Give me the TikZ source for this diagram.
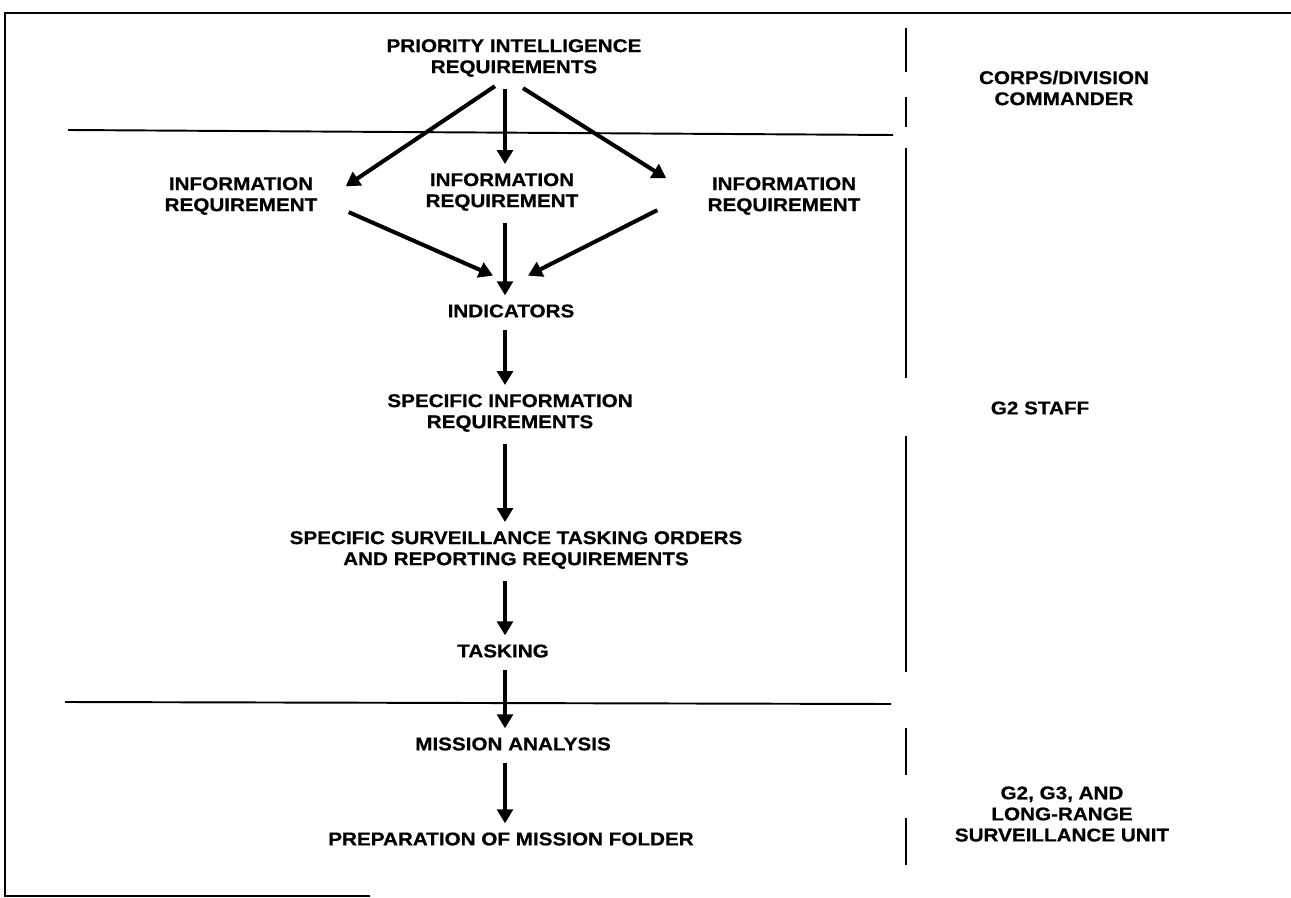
\documentclass[tikz,border=0pt]{standalone}
\usepackage{fontspec}
\setmainfont[FakeStretch=1.12, BoldFeatures={FakeBold=0.6}]{Liberation Sans}
\usepackage{tikz}
\usetikzlibrary{arrows.meta}
\usetikzlibrary{calc}

\tikzset{
  flowtext/.style={inner sep=0pt, align=center, font=\fontsize{10.5}{12}\selectfont\bfseries},
  flowarrow/.style={line width=2.3pt, -{Triangle[length=8pt,width=9pt]}},
  downarrow/.style={flowarrow, shorten <=7pt, shorten >=5pt},
  frameline/.style={line width=1.1pt},
}

\begin{document}
\begin{tikzpicture}[x=0.02cm, y=-0.02cm]
        \newcommand{\flowcolx}{505}
        \newcommand{\sidecolx}{906}
        \useasboundingbox (0,0) rectangle (1291,898);
        % frame and level lines
        \draw[frameline] (370,896) -- (5,896) -- (5,13) -- (1291,13);
        \draw[frameline] (68,130) -- (893,135);
        \draw[frameline] (65,702) -- (891,704);
        \foreach \ya/\yb in {28/72, 97/127, 148/378, 436/672, 728/775, 818/865}
            \draw[frameline] (\sidecolx,\ya) -- (\sidecolx,\yb);
        \coordinate (colx) at (\flowcolx,0);
        % steps
        \node[flowtext] (pir) at (514,58) {PRIORITY INTELLIGENCE\\REQUIREMENTS};
        \node[flowtext] (irl) at (241,196) {INFORMATION\\REQUIREMENT};
        \node[flowtext] (irc) at (502,192) {INFORMATION\\REQUIREMENT};
        \node[flowtext] (irr) at (784,196) {INFORMATION\\REQUIREMENT};
        \node[flowtext] (ind) at (511,311) {INDICATORS};
        \node[flowtext] (sir) at (510,413) {SPECIFIC INFORMATION\\REQUIREMENTS};
        \node[flowtext] (ssto) at (516,550) {SPECIFIC SURVEILLANCE TASKING ORDERS\\AND REPORTING REQUIREMENTS};
        \node[flowtext] (task) at (503,651) {TASKING};
        \node[flowtext] (mana) at (513,744) {MISSION ANALYSIS};
        \node[flowtext] (prep) at (511,839) {PREPARATION OF MISSION FOLDER};
        % who does it
        \node[flowtext] (cdc) at (1064,88) {CORPS/DIVISION\\COMMANDER};
        \node[flowtext] (g2) at (1040,408) {G2 STAFF};
        \node[flowtext] (g23) at (1062,814) {G2, G3, AND\\LONG-RANGE\\SURVEILLANCE UNIT};
        % arrows
        \draw[flowarrow] ($(pir.south)+(-19,9)$) -- ($(irl.north east)+(28,9.5)$);
        \draw[downarrow] (pir.south -| colx) -- (irc.north -| colx);
        \draw[flowarrow] ($(pir.south)+(9,11)$) -- ($(irr.north west)+(-41,1.5)$);
        \draw[flowarrow] ($(irl.south east)+(31,-3)$) -- ($(ind.north)+(-18,-28.5)$);
        \draw[downarrow] (irc.south -| colx) -- (ind.north -| colx);
        \draw[flowarrow] ($(irr.south west)+(-50,-5)$) -- ($(ind.north)+(17,-28.5)$);
        \foreach \a/\b in {ind/sir, sir/ssto, ssto/task, task/mana, mana/prep}
            \draw[downarrow] (\a.south -| colx) -- (\b.north -| colx);
\end{tikzpicture}
\end{document}
